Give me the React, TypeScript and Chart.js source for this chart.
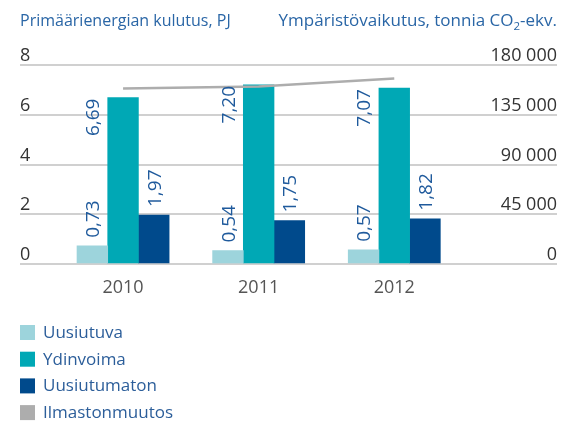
import React, { useEffect, useRef } from 'react';
import { Chart, registerables } from 'chart.js';

Chart.register(...registerables);

// ---- data ----
const years = ['2010', '2011', '2012'];
const uusiutuva = [0.73, 0.54, 0.57];
const ydinvoima = [6.69, 7.2, 7.07];
const uusiutumaton = [1.97, 1.75, 1.82];
const ilmastonmuutos = [158700, 160600, 167700];
const leftTicks = [0, 2, 4, 6, 8];
const rightTicks = [0, 45000, 90000, 135000, 180000];
const seriesNames = ['Uusiutuva', 'Ydinvoima', 'Uusiutumaton', 'Ilmastonmuutos'];
const leftTitle = 'Primäärienergian kulutus, PJ';
const rightTitleParts = ['Ympäristövaikutus, tonnia CO', '2', '-ekv.'];

// ---- styles ----
const FONT = "'Open Sans', sans-serif";
const COLORS = ['#9dd4dc', '#00a8b5', '#004a8c', '#adadad'];
const TITLE_COLOR = '#2a66a6';
const LABEL_COLOR = '#1f5a9c';
const LEGEND_COLOR = '#2c5e9a';
const TICK_COLOR = '#333333';

const fmtDec = (v: number) => v.toFixed(2).replace('.', ',');
const fmtThousands = (v: number) => String(v).replace(/\B(?=(\d{3})+(?!\d))/g, ' ');

const overlayPlugin = {
  id: 'overlay',
  afterDatasetsDraw(chart: any) {
    const ctx = chart.ctx;
    ctx.save();
    ctx.font = `19px ${FONT}`;
    ctx.fillStyle = LABEL_COLOR;
    ctx.textBaseline = 'alphabetic';
    [0, 1, 2].forEach((di) => {
      const meta = chart.getDatasetMeta(di);
      const ds = chart.data.datasets[di];
      meta.data.forEach((bar: any, i: number) => {
        const { x, y, width } = bar.getProps(['x', 'y', 'width'], true);
        const v = ds.data[i].y;
        const txt = fmtDec(v);
        ctx.save();
        if (di === 1) {
          ctx.translate(x - width + 6.8, y + 1);
          ctx.rotate(-Math.PI / 2);
          ctx.textAlign = 'right';
        } else {
          ctx.translate(x + 6.8, y - 8);
          ctx.rotate(-Math.PI / 2);
          ctx.textAlign = 'left';
        }
        ctx.fillText(txt, 0, 0);
        ctx.restore();
      });
    });
    ctx.restore();
  },
  afterDraw(chart: any) {
    const ctx = chart.ctx;
    const area = chart.chartArea;
    ctx.save();
    // titles
    ctx.fillStyle = TITLE_COLOR;
    ctx.textBaseline = 'alphabetic';
    ctx.textAlign = 'left';
    ctx.font = `16px ${FONT}`;
    ctx.fillText(leftTitle, area.left, 26);
    const big = `17px ${FONT}`;
    const small = `11.5px ${FONT}`;
    ctx.font = big;
    const w1 = ctx.measureText(rightTitleParts[0]).width;
    const w3 = ctx.measureText(rightTitleParts[2]).width;
    ctx.font = small;
    const w2 = ctx.measureText(rightTitleParts[1]).width;
    const start = area.right - (w1 + w2 + w3);
    ctx.font = big;
    ctx.fillText(rightTitleParts[0], start, 26);
    ctx.font = small;
    ctx.fillText(rightTitleParts[1], start + w1, 30);
    ctx.font = big;
    ctx.fillText(rightTitleParts[2], start + w1 + w2, 26);

    // legend
    ctx.font = `17px ${FONT}`;
    ctx.textBaseline = 'middle';
    const top = 332.5;
    const step = 26.7;
    seriesNames.forEach((name, i) => {
      const cy = top + i * step;
      ctx.fillStyle = COLORS[i];
      ctx.fillRect(area.left, cy - 7.5, 15, 15);
      ctx.fillStyle = LEGEND_COLOR;
      ctx.fillText(name, area.left + 23, cy + 0.5);
    });
    ctx.restore();
  },
};

export default function App() {
  const ref = useRef<HTMLCanvasElement>(null);
  useEffect(() => {
    document.body.style.margin = '0';
    const canvas = ref.current!;
    const toXY = (arr: number[]) => arr.map((v, i) => ({ x: i, y: v }));
    const chart = new Chart(canvas, {
      type: 'bar',
      data: {
        datasets: [
          { label: seriesNames[0], data: toXY(uusiutuva), backgroundColor: COLORS[0], borderWidth: 0, barThickness: 30.7, yAxisID: 'y', order: 1 } as any,
          { label: seriesNames[1], data: toXY(ydinvoima), backgroundColor: COLORS[1], borderWidth: 0, barThickness: 30.7, yAxisID: 'y', order: 1 } as any,
          { label: seriesNames[2], data: toXY(uusiutumaton), backgroundColor: COLORS[2], borderWidth: 0, barThickness: 30.7, yAxisID: 'y', order: 1 } as any,
          {
            type: 'line',
            label: seriesNames[3],
            data: toXY(ilmastonmuutos),
            borderColor: COLORS[3],
            borderWidth: 2.5,
            pointRadius: 0,
            tension: 0,
            fill: false,
            yAxisID: 'y2',
            order: 0,
          } as any,
        ],
      },
      options: {
        responsive: false,
        animation: false,
        layout: { padding: { left: 20, right: 15, top: 65, bottom: 129 } },
        plugins: { legend: { display: false }, tooltip: { enabled: false } },
        scales: {
          x: {
            type: 'linear',
            min: -0.76,
            max: 3.2,
            offset: false,
            grid: { display: false, drawTicks: false, offset: false },
            border: { display: false },
            afterBuildTicks: (s: any) => {
              s.ticks = years.map((_, i) => ({ value: i }));
            },
            afterFit: (s: any) => {
              s.height = 30;
            },
            ticks: {
              autoSkip: false,
              maxRotation: 0,
              padding: 13,
              color: '#555555',
              font: { family: FONT, size: 18 },
              callback: (v: any) => years[v] ?? '',
            },
          },
          y: {
            type: 'linear',
            position: 'left',
            min: 0,
            max: 8,
            afterBuildTicks: (s: any) => {
              s.ticks = leftTicks.map((v) => ({ value: v }));
            },
            afterFit: (s: any) => {
              s.width = 0;
            },
            grid: { color: '#d0d0d0', lineWidth: 2, drawTicks: false },
            border: { display: false },
            ticks: {
              mirror: true,
              padding: 0,
              labelOffset: -9,
              color: TICK_COLOR,
              font: { family: FONT, size: 18 },
              callback: (v: any) => String(v),
            },
          },
          y2: {
            type: 'linear',
            position: 'right',
            min: 0,
            max: 180000,
            afterBuildTicks: (s: any) => {
              s.ticks = rightTicks.map((v) => ({ value: v }));
            },
            afterFit: (s: any) => {
              s.width = 0;
            },
            grid: { display: false, drawTicks: false },
            border: { display: false },
            ticks: {
              mirror: true,
              padding: 0,
              labelOffset: -9,
              color: TICK_COLOR,
              font: { family: FONT, size: 18 },
              callback: (v: any) => fmtThousands(v),
            },
          },
        },
      } as any,
      plugins: [overlayPlugin],
    });
    return () => chart.destroy();
  }, []);
  return (
    <div style={{ width: 572, height: 423 }}>
      <canvas ref={ref} width={572} height={423} style={{ display: 'block', width: 572, height: 423 }} />
    </div>
  );
}
